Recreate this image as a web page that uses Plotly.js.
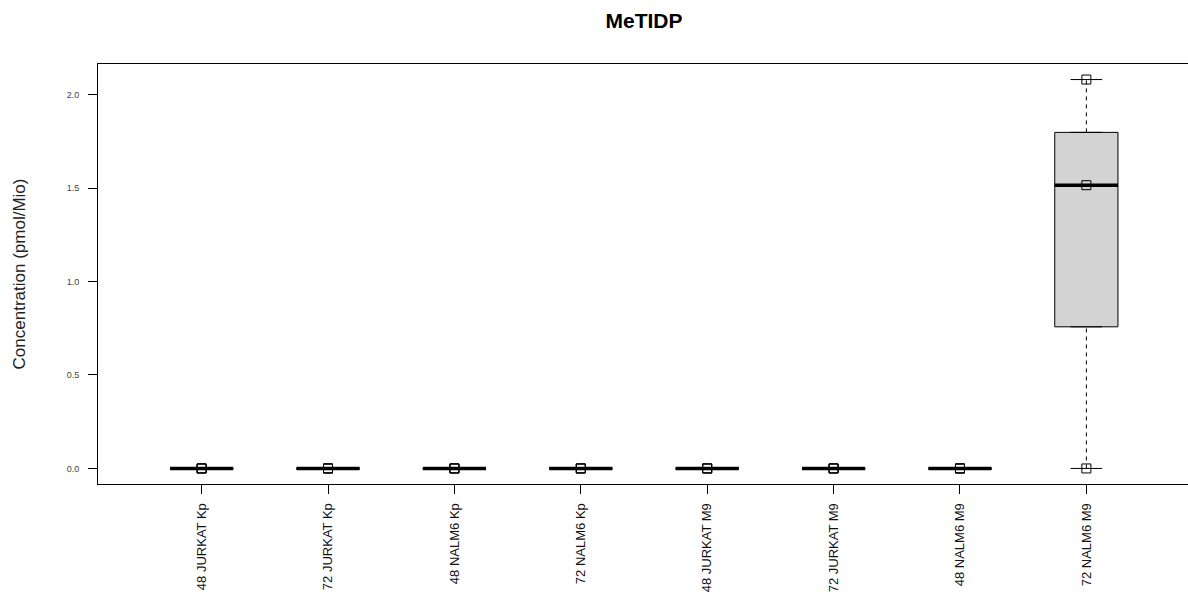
<!DOCTYPE html>
<html>
<head>
<meta charset="utf-8">
<script src="https://cdn.plot.ly/plotly-3.0.1.min.js"></script>
<style>
html,body{margin:0;padding:0;overflow:hidden;background:#fff;}
#chart{width:1200px;height:601px;}
</style>
</head>
<body>
<div id="chart"></div>
<script>
// ---- data ----
const categories = ["48 JURKAT Kp","72 JURKAT Kp","48 NALM6 Kp","72 NALM6 Kp",
                    "48 JURKAT M9","72 JURKAT M9","48 NALM6 M9","72 NALM6 M9"];
const jurkat48Kp = [0, 0, 0];
const jurkat72Kp = [0, 0, 0];
const nalm648Kp  = [0, 0, 0];
const nalm672Kp  = [0, 0, 0];
const jurkat48M9 = [0, 0, 0];
const jurkat72M9 = [0, 0, 0];
const nalm648M9  = [0, 0, 0];
const nalm672M9  = [0, 1.515, 2.08];
const groups = [jurkat48Kp, jurkat72Kp, nalm648Kp, nalm672Kp,
                jurkat48M9, jurkat72M9, nalm648M9, nalm672M9];
const yTicks = [0, 0.5, 1, 1.5, 2];
const yTickText = ["0.0","0.5","1.0","1.5","2.0"];

// ---- R-style fivenum + whiskers ----
function fivenum(arr){
  const x = arr.slice().sort((a,b)=>a-b);
  const n = x.length;
  const n4 = Math.floor((n+3)/2)/2;
  const d = [1, n4, (n+1)/2, n+1-n4, n];
  return d.map(v => 0.5*(x[Math.floor(v)-1] + x[Math.ceil(v)-1]));
}
const xs = categories.map((c,i)=>i+1);
const stats = groups.map(g=>{
  const f = fivenum(g);
  const iqr = f[3]-f[1];
  const lo = Math.min(...g.filter(v=>v >= f[1]-1.5*iqr));
  const hi = Math.max(...g.filter(v=>v <= f[3]+1.5*iqr));
  return {q1:f[1], med:f[2], q3:f[3], lo:lo, hi:hi};
});

const halfBox = 0.25, halfCap = 0.125;
const traces = [];

// boxes (whiskers drawn separately, dashed)
traces.push({
  type:'box', x:xs,
  q1:stats.map(s=>s.q1), median:stats.map(s=>s.med), q3:stats.map(s=>s.q3),
  lowerfence:stats.map(s=>s.q1), upperfence:stats.map(s=>s.q3),
  width:0.5, fillcolor:'#D3D3D3', line:{color:'#000', width:1},
  boxpoints:false, hoverinfo:'skip', showlegend:false
});

// dashed whiskers
const wx=[], wy=[];
stats.forEach((s,i)=>{
  wx.push(xs[i], xs[i], null, xs[i], xs[i], null);
  wy.push(s.lo, s.q1, null, s.q3, s.hi, null);
});
traces.push({type:'scatter', mode:'lines', x:wx, y:wy,
  line:{color:'#000', width:1, dash:'4px,4px'}, hoverinfo:'skip', showlegend:false});

// whisker caps
const cx=[], cy=[];
stats.forEach((s,i)=>{
  cx.push(xs[i]-halfCap, xs[i]+halfCap, null, xs[i]-halfCap, xs[i]+halfCap, null);
  cy.push(s.lo, s.lo, null, s.hi, s.hi, null);
});
traces.push({type:'scatter', mode:'lines', x:cx, y:cy,
  line:{color:'#000', width:1}, hoverinfo:'skip', showlegend:false});

// thick medians
const mx=[], my=[];
stats.forEach((s,i)=>{
  mx.push(xs[i]-halfBox, xs[i]+halfBox, null);
  my.push(s.med, s.med, null);
});
traces.push({type:'scatter', mode:'lines', x:mx, y:my,
  line:{color:'#000', width:3.5}, hoverinfo:'skip', showlegend:false});

// data points
const px=[], py=[];
groups.forEach((g,i)=>g.forEach(v=>{px.push(xs[i]); py.push(v);}));
traces.push({type:'scatter', mode:'markers', x:px, y:py,
  marker:{symbol:'square-open', size:9, color:'#000', line:{width:1}},
  hoverinfo:'y', showlegend:false});

const layout = {
  width:1200, height:601,
  margin:{l:98, r:10, t:64, b:117},
  paper_bgcolor:'#fff', plot_bgcolor:'#fff',
  font:{family:'Liberation Sans, Arial, sans-serif', color:'#000'},
  title:{text:'<b>MeTIDP</b>', font:{size:21, color:'#000'},
         x:0.5, xref:'paper', xanchor:'center', y:1-21/601, yref:'container', yanchor:'middle'},
  xaxis:{range:[0.18, 8.82], tickvals:xs, ticktext:categories, tickangle:-90,
         tickfont:{size:13, color:'#111'}, ticks:'outside', ticklen:9, tickcolor:'#000',
         ticklabelstandoff:4,
         showline:true, mirror:true, linecolor:'#000', linewidth:1,
         showgrid:false, zeroline:false, fixedrange:true},
  yaxis:{range:[-0.0832, 2.1632], tickvals:yTicks, ticktext:yTickText,
         tickfont:{size:9, color:'#444'}, ticks:'outside', ticklen:9, tickcolor:'#000',
         ticklabelstandoff:7,
         showline:true, mirror:true, linecolor:'#000', linewidth:1,
         showgrid:false, zeroline:false, fixedrange:true,
         title:{text:'Concentration (pmol/Mio)', font:{size:17, color:'#222'}, standoff:36}},
  showlegend:false
};

Plotly.newPlot('chart', traces, layout, {displayModeBar:false, staticPlot:false});
</script>
</body>
</html>
